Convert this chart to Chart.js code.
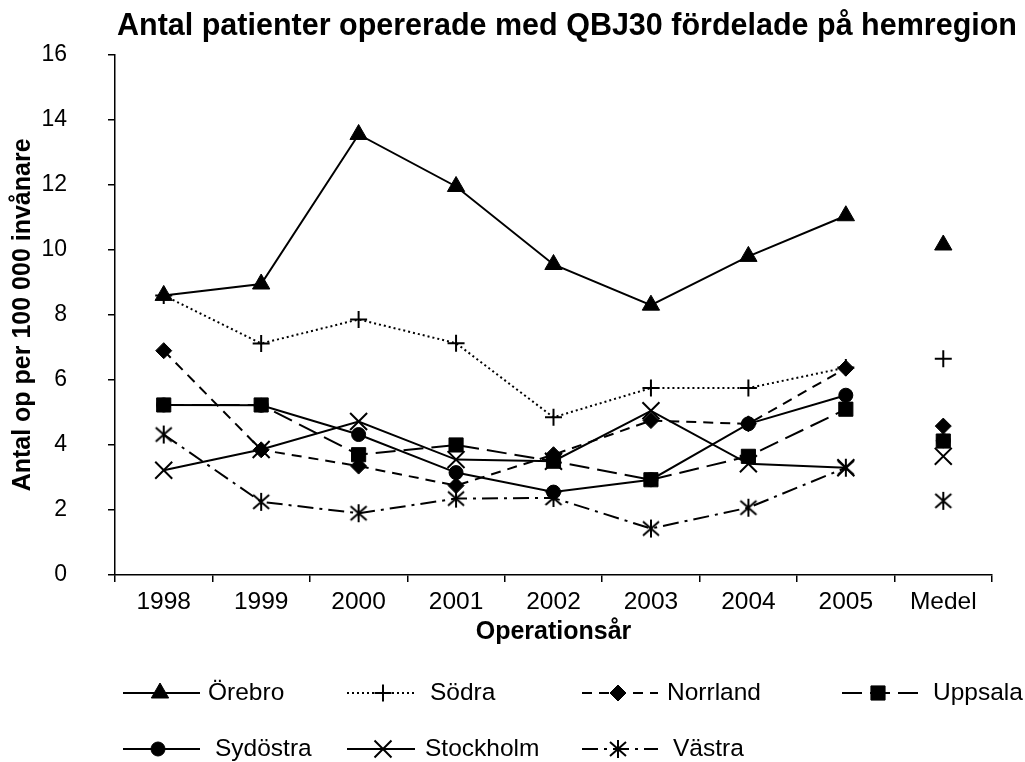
<!DOCTYPE html>
<html lang="sv">
<head>
<meta charset="utf-8">
<title>Antal patienter opererade med QBJ30</title>
<script src="https://cdn.jsdelivr.net/npm/chart.js"></script>
<style>
  html, body { margin: 0; padding: 0; background: #fff; }
  #wrap { width: 1025px; height: 762px; position: relative; }
</style>
</head>
<body>
<div id="wrap"><canvas id="chart"></canvas></div>
<script>
// Data
const labels = ['1998', '1999', '2000', '2001', '2002', '2003', '2004', '2005', 'Medel'];
const orebro    = [8.6, 8.95, 13.55, 11.95, 9.55, 8.3, 9.8, 11.05, 10.15];
const sodra     = [8.6, 7.12, 7.86, 7.13, 4.85, 5.75, 5.75, 6.38, 6.65];
const norrland  = [6.9, 3.85, 3.35, 2.75, 3.7, 4.75, 4.65, 6.36, 4.58];
const uppsala   = [5.23, 5.23, 3.7, 4.0, 3.5, 2.93, 3.65, 5.1, 4.12];
const sydostra  = [5.23, 5.22, 4.32, 3.15, 2.55, 2.93, 4.65, 5.53, 4.13];
const stockholm = [3.22, 3.86, 4.72, 3.55, 3.5, 5.05, 3.42, 3.3, 3.65];
const vastra    = [4.32, 2.25, 1.9, 2.35, 2.37, 1.43, 2.07, 3.3, 2.28];

const yTicks = { min: 0, max: 16, step: 2 };
const title = 'Antal patienter opererade med QBJ30 fördelade på hemregion';
const xTitle = 'Operationsår';
const yTitle = 'Antal op per 100 000 invånare';

const medelIndex = labels.indexOf('Medel');
const FONT = '"Liberation Sans", Arial, sans-serif';

// six-armed asterisk marker for Västra
function asterisk() {
    const c = document.createElement('canvas');
    c.width = 20; c.height = 20;
    const g = c.getContext('2d');
    g.strokeStyle = '#000';
    g.lineWidth = 2;
    g.beginPath();
    g.moveTo(10, 1); g.lineTo(10, 19);
    g.moveTo(2, 3); g.lineTo(18, 17);
    g.moveTo(18, 3); g.lineTo(2, 17);
    g.stroke();
    return c;
}

function series(label, data, pointStyle, radius, markerLine, dash) {
    return {
        label: label,
        data: data,
        borderColor: '#000',
        backgroundColor: '#000',
        borderWidth: 2,
        borderDash: dash,
        pointStyle: pointStyle,
        pointRadius: radius,
        pointHoverRadius: radius,
        pointBorderWidth: markerLine,
        pointBorderColor: '#000',
        pointBackgroundColor: '#000',
        tension: 0,
        segment: {
            // Medel is shown as a lone marker, not joined to 2005
            borderColor: ctx => ctx.p1DataIndex === medelIndex ? 'rgba(0,0,0,0)' : '#000'
        }
    };
}

const datasets = [
    series('Örebro', orebro, 'triangle', 10, 1, []),
    series('Södra', sodra, 'cross', 8.5, 2, [2, 3]),
    series('Norrland', norrland, 'rectRot', 8, 1, [10, 7]),
    series('Uppsala', uppsala, 'rect', 10, 1, [20, 8]),
    series('Sydöstra', sydostra, 'circle', 7, 1, []),
    series('Stockholm', stockholm, 'crossRot', 12, 2, []),
    series('Västra', vastra, asterisk(), 9, 1, [16, 6, 3, 6])
];

// legend slots: line start, line end, marker x, text x, row y
const legendSlots = [
    [123, 200, 160, 208, 693],
    [347, 415, 383, 430, 693],
    [582, 658, 618, 667, 693],
    [842, 918, 878, 933, 693],
    [123, 200, 158, 215, 749],
    [347, 415, 383, 425, 749],
    [582, 658, 618, 673, 749]
];

const titleAndLegend = {
    id: 'titleAndLegend',
    afterDraw(chart) {
        const ctx = chart.ctx;
        ctx.save();
        ctx.fillStyle = '#000';
        ctx.font = 'bold 30.5px ' + FONT;
        ctx.textAlign = 'center';
        ctx.textBaseline = 'alphabetic';
        ctx.fillText(title, 567, 35);

        ctx.font = '24.5px ' + FONT;
        ctx.textAlign = 'left';
        ctx.textBaseline = 'middle';
        chart.data.datasets.forEach((ds, i) => {
            const [x1, x2, mx, tx, y] = legendSlots[i];
            ctx.strokeStyle = '#000';
            ctx.lineWidth = ds.borderWidth;
            ctx.setLineDash(ds.borderDash || []);
            ctx.beginPath();
            ctx.moveTo(x1, y);
            ctx.lineTo(x2, y);
            ctx.stroke();
            ctx.setLineDash([]);
            if (Chart.helpers && Chart.helpers.drawPoint) {
                ctx.fillStyle = '#000';
                ctx.lineWidth = ds.pointBorderWidth;
                Chart.helpers.drawPoint(ctx, {
                    pointStyle: ds.pointStyle,
                    radius: ds.pointRadius,
                    rotation: 0,
                    borderWidth: ds.pointBorderWidth
                }, mx, y);
            }
            ctx.fillStyle = '#000';
            ctx.fillText(ds.label, tx, y);
        });
        ctx.restore();
    }
};

new Chart(document.getElementById('chart'), {
    type: 'line',
    data: { labels: labels, datasets: datasets },
    options: {
        responsive: true,
        maintainAspectRatio: false,
        animation: false,
        layout: { padding: { top: 49, right: 33, bottom: 115, left: 0 } },
        plugins: {
            legend: { display: false },
            title: { display: false },
            tooltip: { enabled: false }
        },
        scales: {
            x: {
                offset: true,
                afterFit: scale => { scale.height = 72; },
                grid: { offset: true, drawOnChartArea: false, tickLength: 7, color: '#000', lineWidth: 1.5 },
                border: { color: '#000', width: 1.5 },
                ticks: {
                    color: '#000',
                    padding: 6,
                    maxRotation: 0,
                    font: { family: FONT, size: 24.5 }
                },
                title: {
                    display: true,
                    text: xTitle,
                    color: '#000',
                    padding: { top: 0, bottom: 0 },
                    font: { family: FONT, size: 25, weight: 'bold' }
                }
            },
            y: {
                min: yTicks.min,
                max: yTicks.max,
                afterFit: scale => { scale.width = 115; },
                grid: { drawOnChartArea: false, tickLength: 7, color: '#000', lineWidth: 1.5 },
                border: { color: '#000', width: 1.5 },
                ticks: {
                    stepSize: yTicks.step,
                    color: '#000',
                    padding: 41,
                    font: { family: FONT, size: 23 }
                },
                title: {
                    display: true,
                    text: yTitle,
                    color: '#000',
                    padding: { top: 8, bottom: 0 },
                    font: { family: FONT, size: 25, weight: 'bold' }
                }
            }
        }
    },
    plugins: [titleAndLegend]
});
</script>
</body>
</html>
